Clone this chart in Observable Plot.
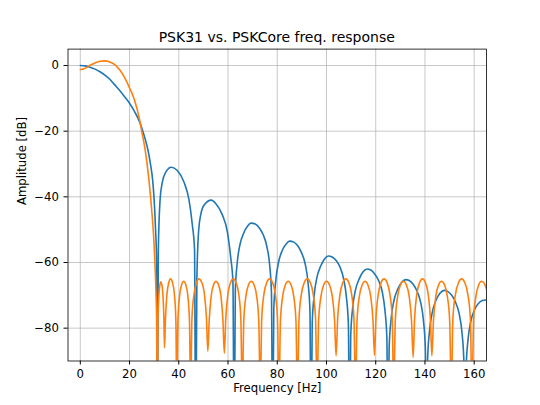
<!DOCTYPE html>
<html>
<head>
<meta charset="utf-8">
<script src="https://cdn.jsdelivr.net/npm/d3@7"></script>
<script src="https://cdn.jsdelivr.net/npm/@observablehq/plot@0.6"></script>
<style>
  html, body { margin: 0; padding: 0; background: #fff; }
  #wrap { width: 540px; height: 405px; overflow: hidden; font-family: "DejaVu Sans", sans-serif; }
  #title { box-sizing: border-box; height: 45px; padding-top: 29px; margin-left: 67.5px; width: 418.5px;
           text-align: center; font-size: 14px; line-height: 16px; color: #000; white-space: nowrap; }
</style>
</head>
<body>
<div id="wrap">
  <div id="title">PSK31 vs. PSKCore freq. response</div>
  <div id="chart"></div>
</div>
<script>
const titleText = "PSK31 vs. PSKCore freq. response";
const xLabel = "Frequency [Hz]";
const yLabel = "Amplitude [dB]";
const xTicks = [0, 20, 40, 60, 80, 100, 120, 140, 160];
const yTicks = [0, -20, -40, -60, -80];
const seriesNames = ["PSK31", "PSKCore"];

// PSK31 response [frequency Hz, amplitude dB] (nulls drop below the axis)
const psk31 = [
  [0,0],[2,-0.1],[4,-0.5],[6,-1.1],[8,-1.9],[10,-2.9],[12,-4.2],[14,-5.9],[16,-7.6],[18,-9.5],
  [20,-11.5],[22,-14],[24,-17],[25.4,-20],[26.5,-22.8],[27.5,-25.8],[28.5,-30],[29.4,-35],[30,-41],
  [30.6,-50.5],[31,-60],[31.25,-120],
  [31.7,-56],[32.4,-41],[33.3,-35.6],[34.7,-32.5],[37,-31],[39.4,-32],[42.1,-35.5],[44.1,-40.7],
  [45.5,-48.5],[46.4,-56],[46.875,-120],
  [47.35,-65],[48.05,-50.5],[48.9,-45.5],[50.3,-42.5],[53.2,-41],[55,-42],[57.7,-45.5],[59.7,-50.5],
  [61.1,-58.5],[62,-66],[62.5,-120],
  [62.97,-68.5],[63.75,-60],[64.84,-54.6],[66.4,-51],[67.97,-48.9],[69.3,-48],[71.1,-48.3],
  [72.66,-49.4],[74.2,-51.4],[75.8,-55.2],[76.9,-60.7],[77.65,-69.2],[78.125,-120],
  [78.6,-74],[79.4,-65.5],[80.5,-60],[82,-56.4],[83.6,-54.4],[85,-53.5],[86.7,-53.8],[88.3,-54.9],
  [89.8,-56.9],[91.4,-60.6],[92.5,-66.1],[93.28,-74.6],[93.75,-120],
  [94.2,-78.5],[95,-70],[96.1,-64.6],[97.7,-61],[99.2,-58.9],[100.8,-58],[102.3,-58.3],[103.9,-59.4],
  [105.5,-61.4],[107,-65.1],[108.1,-70.6],[108.9,-79],[109.375,-120],
  [109.84,-82.5],[110.6,-74],[111.7,-68.6],[113.3,-65],[114.8,-62.9],[116.6,-62],[118,-62.3],
  [119.5,-63.4],[121.1,-65.4],[122.7,-69.1],[123.75,-74.6],[124.53,-83],[125,-120],
  [125.47,-85.7],[126.25,-77.2],[127.34,-71.8],[128.9,-68.2],[130.5,-66.1],[132.2,-65.2],[133.6,-65.5],
  [135.2,-66.6],[136.7,-68.6],[138.3,-72.3],[139.4,-77.8],[140.16,-86.2],[140.625,-120],
  [141.1,-89],[141.9,-80.5],[143,-75.1],[144.5,-71.5],[146.1,-69.4],[147.8,-68.5],[149.2,-68.8],
  [150.8,-69.9],[152.3,-71.9],[153.9,-75.6],[155,-81.1],[155.78,-89.5],[156.25,-120],
  [156.72,-92],[157.5,-83.5],[158.6,-78],[160.2,-74.3],[161.7,-72.5],[163.3,-71.6],[165,-71.4],[166.5,-71.6]
];

// PSKCore response [frequency Hz, amplitude dB]
const pskcore = [
  [0,-1.2],[1,-1.1],[2,-0.8],[3,-0.4],[4,0.1],[6,0.8],[8,1.3],[10,1.4],[12,1.1],[14,0.3],[16,-1.3],
  [18,-3.7],[20,-6.8],[22,-10.5],[24,-16.2],[24.9,-19.8],[26.3,-25.5],[27.9,-35],[29,-44],[29.7,-51],
  [30.3,-60],[30.7,-68],[31,-78],[31.3,-120],
  [31.53,-78],[31.88,-70.5],[32.3,-67],[32.6,-65.9],[33.2,-67],[33.6,-70.5],[33.95,-77],[34.2,-86],
  [34.6,-77],[35.2,-69.6],[35.95,-66.1],[36.6,-65],[37.45,-66.1],[38.2,-69.6],[38.8,-77],[39.2,-100],
  [39.65,-77.8],[40.3,-70.3],[41.15,-66.8],[42,-65.7],[42.85,-66.8],[43.7,-70.3],[44.35,-77.8],[44.8,-100],
  [45.35,-77],[46.2,-69.6],[47.25,-66.1],[48.1,-65],[49.35,-66.1],[50.4,-69.6],[51.25,-77],[51.8,-87],
  [52.35,-77.8],[53.15,-70.3],[54.15,-66.8],[55.1,-65.7],[56.15,-66.8],[57.15,-70.3],[57.95,-77.8],[58.5,-87.6],
  [59.1,-77],[59.95,-69.6],[61.05,-66.1],[62.15,-65],[63.25,-66.1],[64.35,-69.6],[65.2,-77],[65.8,-100],
  [66.4,-77.8],[67.25,-70.3],[68.35,-66.8],[69.45,-65.7],[70.55,-66.8],[71.65,-70.3],[72.5,-77.8],[73.1,-100],
  [73.7,-77],[74.6,-69.6],[75.75,-66.1],[76.9,-65],[78.05,-66.1],[79.2,-69.6],[80.1,-77],[80.7,-100],
  [81.3,-77.8],[82.2,-70.3],[83.3,-66.8],[84.45,-65.7],[85.6,-66.8],[86.7,-70.3],[87.6,-77.8],[88.2,-100],
  [88.85,-77],[89.8,-69.6],[91,-66.1],[92.2,-65],[93.4,-66.1],[94.6,-69.6],[95.55,-77],[96.2,-100],
  [96.8,-77.8],[97.75,-70.3],[98.9,-66.8],[100,-65.7],[101.2,-66.8],[102.35,-70.3],[103.3,-77.8],[103.9,-88.4],
  [104.55,-77],[105.5,-69.6],[106.65,-66.1],[107.85,-65],[109.05,-66.1],[110.2,-69.6],[111.15,-77],[111.8,-100],
  [112.4,-77.8],[113.35,-70.3],[114.5,-66.8],[115.65,-65.7],[116.8,-66.8],[117.95,-70.3],[118.9,-77.8],[119.5,-88.3],
  [120.1,-77],[121.05,-69.6],[122.2,-66.1],[123.4,-65],[124.6,-66.1],[125.75,-69.6],[126.7,-77],[127.3,-100],
  [127.95,-77.8],[128.9,-70.3],[130.05,-66.8],[131.25,-65.7],[132.45,-66.8],[133.6,-70.3],[134.55,-77.8],[135.2,-88.9],
  [135.8,-77],[136.7,-69.6],[137.85,-66.1],[139,-65],[140.15,-66.1],[141.3,-69.6],[142.2,-77],[142.8,-88.4],
  [143.45,-77.8],[144.4,-70.3],[145.55,-66.8],[146.75,-65.7],[147.95,-66.8],[149.1,-70.3],[150.05,-77.8],[150.7,-100],
  [151.35,-77],[152.4,-69.6],[153.65,-66.1],[154.9,-65],[156.15,-66.1],[157.4,-69.6],[158.45,-77],[159.1,-100],
  [159.75,-77.8],[160.7,-70.3],[161.85,-66.8],[163,-65.7],[164.2,-66.5],[165.4,-69]
];

const table = [
  ...psk31.map(([f, db]) => ({series: seriesNames[0], f, db})),
  ...pskcore.map(([f, db]) => ({series: seriesNames[1], f, db}))
];

const chart = Plot.plot({
  width: 540,
  height: 360,
  marginLeft: 67.5,
  marginRight: 54,
  marginTop: 3.6,
  marginBottom: 44.5,
  style: {fontFamily: "DejaVu Sans, sans-serif", fontSize: "11.7px", background: "white", color: "black"},
  x: {domain: [-5, 165]},
  y: {domain: [-90, 5]},
  color: {domain: seriesNames, range: ["#1f77b4", "#ff7f0e"]},
  marks: [
    Plot.gridX(xTicks, {stroke: "#b0b0b0", strokeOpacity: 1, strokeWidth: 0.7}),
    Plot.gridY(yTicks, {stroke: "#b0b0b0", strokeOpacity: 1, strokeWidth: 0.7}),
    Plot.line(table, {x: "f", y: "db", z: "series", stroke: "series", strokeWidth: 1.6,
      curve: "monotone-x", clip: true}),
    Plot.frame({stroke: "black", strokeWidth: 0.8}),
    Plot.axisX(xTicks, {tickSize: 4, tickPadding: 5, label: null, stroke: "black"}),
    Plot.axisY(yTicks, {tickSize: 4, tickPadding: 5, label: null, stroke: "black"}),
    Plot.text([xLabel], {frameAnchor: "bottom", lineAnchor: "middle", dy: 27, fontSize: 11.7, fill: "black"}),
    Plot.text([yLabel], {frameAnchor: "left", lineAnchor: "middle", dx: -45.5, rotate: -90, fontSize: 11.7, fill: "black"})
  ]
});
document.getElementById("chart").appendChild(chart);
document.getElementById("title").textContent = titleText;
</script>
</body>
</html>
